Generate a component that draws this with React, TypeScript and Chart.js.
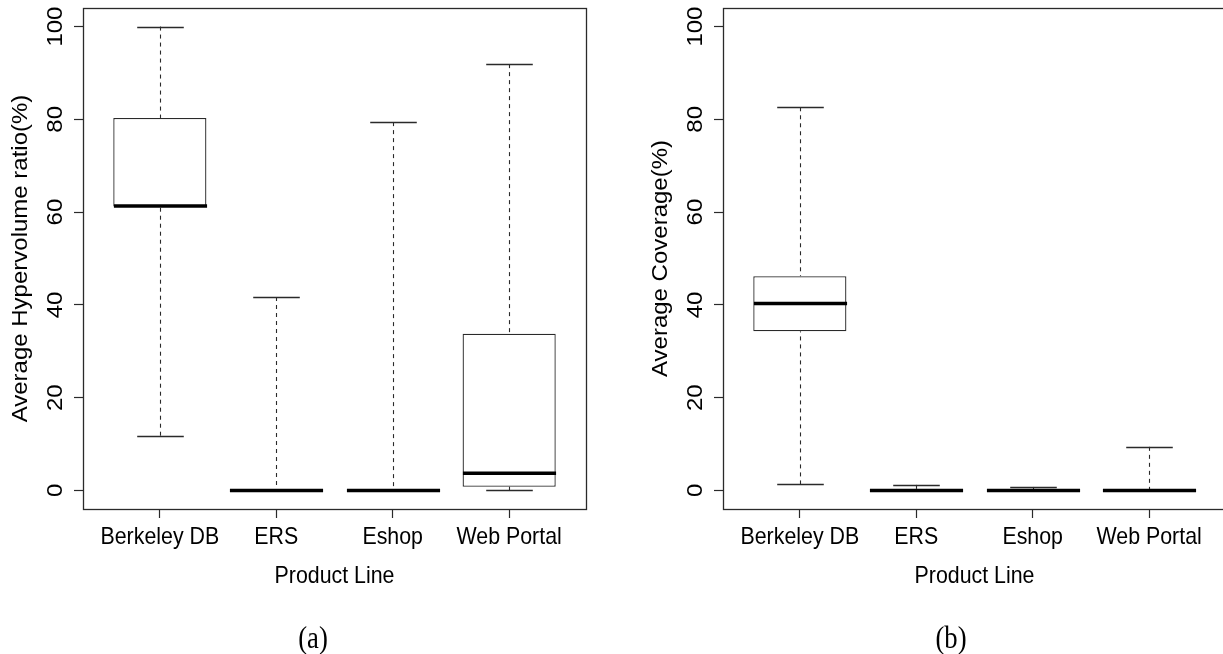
import React, { useEffect, useRef } from "react";
import { Chart, registerables } from "chart.js";

Chart.register(...registerables);

// ---------- data ----------
const categories = ["Berkeley DB", "ERS", "Eshop", "Web Portal"];
const xPositions = [1, 2, 3, 4];
const yTickValues = [0, 20, 40, 60, 80, 100];
const xAxisTitle = "Product Line";

// Panel (a): Average Hypervolume ratio (%)
const hvLowerWhisker = [11.8, 0, 0, 0];
const hvQ1 = [61.2, 0, 0, 0.8];
const hvMedian = [61.3, 0, 0, 3.7];
const hvQ3 = [80.3, 0, 0, 33.8];
const hvUpperWhisker = [100, 41.7, 79.4, 91.9];

// Panel (b): Average Coverage (%)
const covLowerWhisker = [1.3, 0, 0, 0];
const covQ1 = [34.3, 0, 0, 0];
const covMedian = [40.3, 0, 0, 0];
const covQ3 = [46.2, 0, 0, 0];
const covUpperWhisker = [82.6, 1.2, 0.75, 9.4];

const FONT = "'Liberation Sans', Arial, Helvetica, sans-serif";
const FONT_SIZE = 24;
const SX = 0.89; // horizontal squeeze of the original figure
const LINE = "#2a2a2a";

type Stats = {
  lower: number[];
  q1: number[];
  median: number[];
  q3: number[];
  upper: number[];
};

function drawText(
  ctx: CanvasRenderingContext2D,
  text: string,
  x: number,
  y: number,
  rotated: boolean,
  align: CanvasTextAlign,
  baseline: CanvasTextBaseline
) {
  ctx.save();
  ctx.translate(x, y);
  ctx.scale(SX, 1);
  if (rotated) ctx.rotate(-Math.PI / 2);
  ctx.textAlign = align;
  ctx.textBaseline = baseline;
  ctx.fillText(text, 0, 0);
  ctx.restore();
}

function boxExtras(stats: Stats, yTitle: string) {
  return {
    id: "boxExtras",
    afterDatasetsDraw(chart: any) {
      const { ctx } = chart;
      const xs = chart.scales.x;
      const ys = chart.scales.y;
      const halfCap = xs.getPixelForValue(1.2) - xs.getPixelForValue(1);
      const halfBox = xs.getPixelForValue(1.4) - xs.getPixelForValue(1);
      ctx.save();
      xPositions.forEach((xv, i) => {
        const px = Math.round(xs.getPixelForValue(xv)) + 0.5;
        const seg = (x1: number, y1: number, x2: number, y2: number) => {
          ctx.beginPath();
          ctx.moveTo(x1, y1);
          ctx.lineTo(x2, y2);
          ctx.stroke();
        };
        ctx.strokeStyle = LINE;
        ctx.lineWidth = 1.1;
        ctx.setLineDash([4, 4]);
        if (stats.upper[i] > stats.q3[i])
          seg(px, ys.getPixelForValue(stats.upper[i]), px, ys.getPixelForValue(stats.q3[i]));
        if (stats.lower[i] < stats.q1[i])
          seg(px, ys.getPixelForValue(stats.lower[i]), px, ys.getPixelForValue(stats.q1[i]));
        ctx.setLineDash([]);
        ctx.lineWidth = 1.3;
        const yU = Math.round(ys.getPixelForValue(stats.upper[i])) + 0.5;
        const yL = Math.round(ys.getPixelForValue(stats.lower[i])) + 0.5;
        seg(px - halfCap, yU, px + halfCap, yU);
        seg(px - halfCap, yL, px + halfCap, yL);
        ctx.strokeStyle = "#000";
        ctx.lineWidth = 3.5;
        ctx.lineCap = "butt";
        const yM = ys.getPixelForValue(stats.median[i]);
        seg(px - halfBox, yM, px + halfBox, yM);
      });
      ctx.restore();
    },
    afterDraw(chart: any) {
      const { ctx, chartArea } = chart;
      const xs = chart.scales.x;
      const ys = chart.scales.y;
      ctx.save();
      ctx.strokeStyle = LINE;
      ctx.lineWidth = 1.3;
      ctx.strokeRect(
        Math.round(chartArea.left) + 0.5,
        Math.round(chartArea.top) + 0.5,
        Math.round(chartArea.right - chartArea.left),
        Math.round(chartArea.bottom - chartArea.top)
      );
      ctx.fillStyle = "#000";
      ctx.font = `${FONT_SIZE}px ${FONT}`;
      // y tick labels (rotated, R style)
      yTickValues.forEach((v) => {
        drawText(ctx, String(v), chartArea.left - 21, ys.getPixelForValue(v), true, "center", "alphabetic");
      });
      // y axis title
      drawText(
        ctx,
        yTitle,
        chartArea.left - 56,
        (chartArea.top + chartArea.bottom) / 2,
        true,
        "center",
        "alphabetic"
      );
      // x tick labels
      xPositions.forEach((xv, i) => {
        drawText(ctx, categories[i], xs.getPixelForValue(xv), chartArea.bottom + 35, false, "center", "alphabetic");
      });
      // x axis title
      drawText(
        ctx,
        xAxisTitle,
        (chartArea.left + chartArea.right) / 2,
        chartArea.bottom + 74,
        false,
        "center",
        "alphabetic"
      );
      ctx.restore();
    },
  };
}

function makeConfig(stats: Stats, yTitle: string, padLeft: number) {
  return {
    type: "bar",
    data: {
      datasets: [
        {
          data: xPositions.map((xv, i) => ({ x: xv, y: [stats.q1[i], stats.q3[i]] })),
          backgroundColor: "#ffffff",
          borderColor: LINE,
          borderWidth: 1.3,
          borderSkipped: false,
          categoryPercentage: 1,
          barPercentage: 0.8,
        },
      ],
    },
    options: {
      animation: false,
      responsive: false,
      devicePixelRatio: 1,
      events: [],
      layout: { padding: { left: padLeft, top: 8, right: 14, bottom: 0 } },
      plugins: {
        legend: { display: false },
        tooltip: { enabled: false },
      },
      scales: {
        x: {
          type: "linear",
          offset: false,
          min: 0.34,
          max: 4.66,
          afterBuildTicks: (scale: any) => {
            scale.ticks = xPositions.map((v) => ({ value: v }));
          },
          afterFit: (scale: any) => {
            scale.height = 145;
          },
          ticks: { display: false },
          grid: {
            offset: false,
            drawOnChartArea: false,
            drawTicks: true,
            tickLength: 9,
            tickColor: LINE,
            tickWidth: 1.2,
            color: LINE,
          },
          border: { display: false },
          title: { display: false, text: xAxisTitle },
        },
        y: {
          type: "linear",
          min: -4,
          max: 104,
          afterBuildTicks: (scale: any) => {
            scale.ticks = yTickValues.map((v) => ({ value: v }));
          },
          afterFit: (scale: any) => {
            scale.width = 83;
          },
          ticks: { display: false },
          grid: {
            drawOnChartArea: false,
            drawTicks: true,
            tickLength: 9,
            tickColor: LINE,
            tickWidth: 1.2,
            color: LINE,
          },
          border: { display: false },
          title: { display: false, text: yTitle },
        },
      },
    },
    plugins: [boxExtras(stats, yTitle)],
  };
}

function Panel(props: {
  stats: Stats;
  yTitle: string;
  left: number;
  width: number;
  padLeft: number;
}) {
  const ref = useRef<HTMLCanvasElement | null>(null);
  useEffect(() => {
    if (!ref.current) return;
    const chart = new Chart(ref.current, makeConfig(props.stats, props.yTitle, props.padLeft) as any);
    return () => chart.destroy();
  }, []);
  return (
    <canvas
      ref={ref}
      width={props.width}
      height={654}
      style={{ position: "absolute", left: props.left, top: 0, width: props.width, height: 654 }}
    />
  );
}

const captionStyle: React.CSSProperties = {
  position: "absolute",
  top: 637,
  transform: "translate(-50%, -50%) scaleX(0.86)",
  fontFamily: "'Liberation Serif', 'DejaVu Serif', serif",
  fontSize: 31,
  color: "#000",
  lineHeight: 1,
  whiteSpace: "nowrap",
};

export default function App() {
  const hv: Stats = {
    lower: hvLowerWhisker,
    q1: hvQ1,
    median: hvMedian,
    q3: hvQ3,
    upper: hvUpperWhisker,
  };
  const cov: Stats = {
    lower: covLowerWhisker,
    q1: covQ1,
    median: covMedian,
    q3: covQ3,
    upper: covUpperWhisker,
  };
  return (
    <div
      style={{
        position: "fixed",
        left: 0,
        top: 0,
        width: 1223,
        height: 654,
        overflow: "hidden",
        background: "#fff",
      }}
    >
      <Panel stats={hv} yTitle="Average Hypervolume ratio(%)" left={0} width={600} padLeft={0} />
      <Panel stats={cov} yTitle="Average Coverage(%)" left={620} width={620} padLeft={20} />
      <div style={{ ...captionStyle, left: 313 }}>(a)</div>
      <div style={{ ...captionStyle, left: 951 }}>(b)</div>
    </div>
  );
}
